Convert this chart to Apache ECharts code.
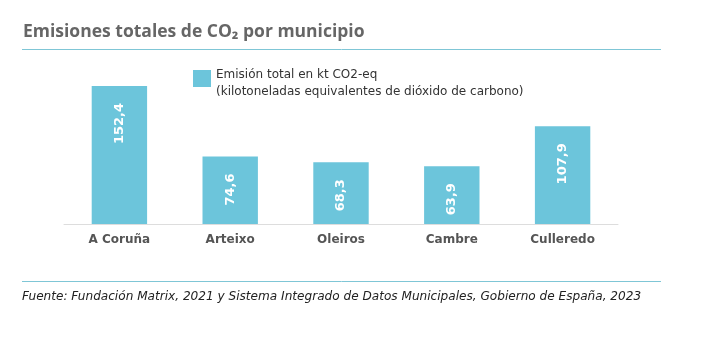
<!DOCTYPE html>
<html>
<head>
<meta charset="utf-8">
<script src="https://cdn.jsdelivr.net/npm/echarts@6/dist/echarts.min.js"></script>
<style>
  html, body { margin: 0; padding: 0; background: #fff; }
  #chart { width: 712px; height: 352px; }
</style>
</head>
<body>
<div id="chart"></div>
<script>
// Datos del gráfico
const municipios = ["A Coruña", "Arteixo", "Oleiros", "Cambre", "Culleredo"];
const emisiones = [152.4, 74.6, 68.3, 63.9, 107.9];
const leyendaLineas = ["Emisión total en kt CO2-eq", "(kilotoneladas equivalentes de dióxido de carbono)"];
const serieNombre = leyendaLineas.join("\n");

const chart = echarts.init(document.getElementById("chart"), null, { renderer: "canvas" });

const option = {
  animation: false,
  title: {
    text: "Emisiones totales de CO₂ por municipio",
    left: 23,
    top: 23,
    padding: 0,
    textStyle: { fontFamily: "Open Sans", fontWeight: "bold", fontSize: 17.5, color: "#666" }
  },
  legend: {
    left: 193,
    top: 61,
    padding: 0,
    icon: "rect",
    itemWidth: 18,
    itemHeight: 17,
    itemGap: 9,
    selectedMode: false,
    // línea vacía arriba para bajar el texto respecto al cuadrado
    formatter: () => "{s| }\n" + leyendaLineas.map((l) => "{a|" + l + "}").join("\n"),
    textStyle: {
      rich: {
        s: { fontSize: 1, lineHeight: 10 },
        a: { fontFamily: "DejaVu Sans", fontSize: 12, color: "#333", lineHeight: 17 }
      }
    }
  },
  grid: { left: 64, right: 94, top: 61, bottom: 128 },
  xAxis: {
    type: "category",
    data: municipios,
    axisTick: { show: false },
    axisLine: { lineStyle: { color: "#ddd", width: 1 } },
    axisLabel: {
      margin: 10,
      fontFamily: "DejaVu Sans",
      fontWeight: "bold",
      fontSize: 12,
      color: "#555"
    }
  },
  yAxis: {
    type: "value",
    min: 0,
    max: 180,
    show: false,
    splitLine: { show: false }
  },
  series: [{
    name: serieNombre,
    type: "bar",
    data: emisiones,
    barWidth: "50%",
    itemStyle: { color: "#6cc5db" },
    label: {
      show: true,
      position: "insideTop",
      distance: 17,
      rotate: 90,
      align: "right",
      verticalAlign: "middle",
      fontFamily: "DejaVu Sans",
      fontWeight: "bold",
      fontSize: 13,
      color: "#fff",
      formatter: (p) => String(p.value).replace(".", ",")
    }
  }],
  graphic: [
    { type: "line", shape: { x1: 22, y1: 49.5, x2: 661, y2: 49.5 }, style: { stroke: "#7fc6d6", lineWidth: 1 } },
    { type: "line", shape: { x1: 22, y1: 281.5, x2: 661, y2: 281.5 }, style: { stroke: "#7fc6d6", lineWidth: 1 } },
    {
      type: "text",
      left: 22,
      top: 291,
      style: {
        text: "Fuente: Fundación Matrix, 2021 y Sistema Integrado de Datos Municipales, Gobierno de España, 2023",
        font: "italic 12.1px 'DejaVu Sans'",
        fill: "#222"
      }
    }
  ]
};

chart.setOption(option);
</script>
</body>
</html>
